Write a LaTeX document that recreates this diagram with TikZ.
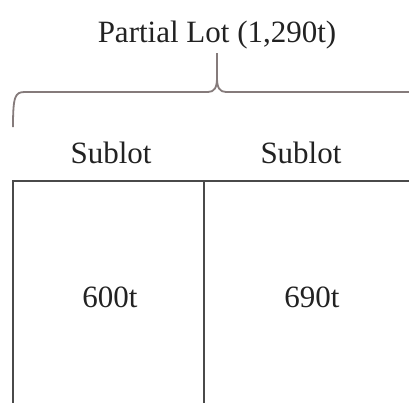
\documentclass[tikz,border=0pt]{standalone}
\usepackage{fontspec}
\setmainfont{Liberation Serif}
\usepackage{xcolor}
\usetikzlibrary{positioning,calc}

\definecolor{inkgrey}{HTML}{222222}
\definecolor{boxgrey}{HTML}{4A4A4A}
\definecolor{bracegrey}{HTML}{857B7B}

\tikzset{
    label text/.style={text=inkgrey, inner sep=0pt, anchor=base,
        font=\fontsize{15.5}{18}\selectfont},
    lot box/.style={draw=boxgrey, line width=1pt},
    lot brace/.style={draw=bracegrey, line width=0.9pt}
}

\begin{document}
\begin{tikzpicture}[x=0.5pt,y=-0.5pt]
    \useasboundingbox (0,0) rectangle (409,403);

    % Title and brace
    \node[label text] (lot) at (217,42) {Partial Lot (1,290t)};
    \coordinate (braceL) at (13,127);
    \coordinate (braceTip) at (217,53);
    \coordinate (braceR) at (412,92);
    \draw[lot brace] (braceL) .. controls (13,96) and (15,92) .. (25,92)
        -- (208,92) .. controls (214,92) and (217,88) .. (217,78) -- (braceTip);
    \draw[lot brace] (217,78) .. controls (217,88) and (220,92) .. (226,92) -- (braceR);

    % Sublot headers
    \node[label text] (head1) at (111,163) {Sublot};
    \node[label text] (head2) at (301,163) {Sublot};

    % Sublot boxes
    \coordinate (boxBL) at (13,406);
    \coordinate (boxTL) at (13,181);
    \coordinate (boxTR) at (412,181);
    \coordinate (midT) at (204,181);
    \coordinate (midB) at (204,406);
    \draw[lot box] (boxBL) -- (boxTL) -- (boxTR);
    \draw[lot box] (midT) -- (midB);

    % Tonnages
    \node[label text] (ton1) at (110,307) {600t};
    \node[label text] (ton2) at (312,307) {690t};
\end{tikzpicture}
\end{document}
